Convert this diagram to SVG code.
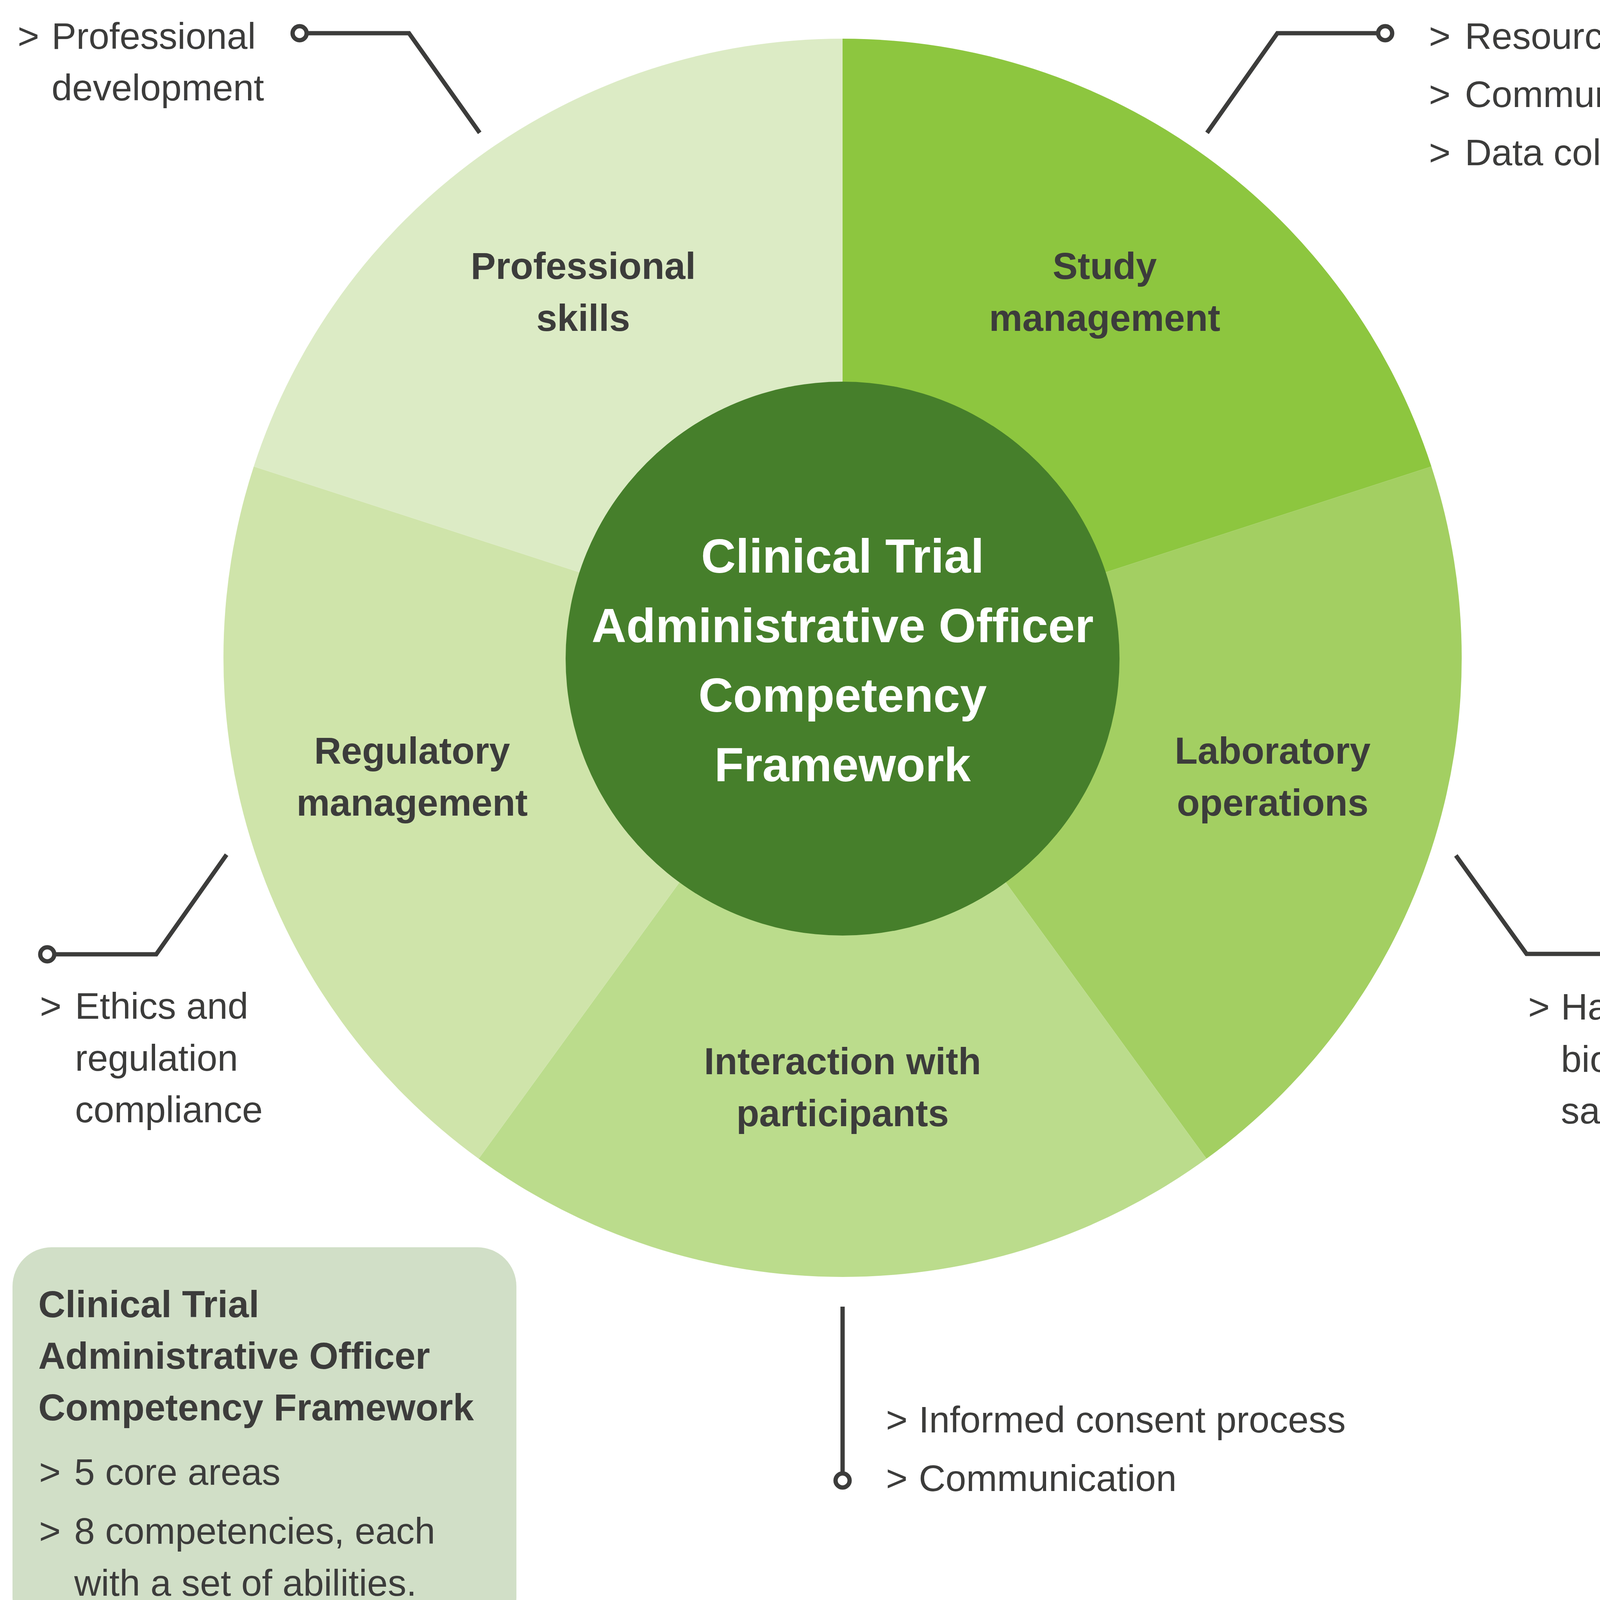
<svg xmlns="http://www.w3.org/2000/svg" width="6333" height="5568" viewBox="0 0 6333 5568">
<style>
text{font-family:"Liberation Sans",Arial,sans-serif;fill:#3c3c3b}
.t{font-size:95px}
.b{font-size:96px;font-weight:bold}
.lbl{font-size:96px;font-weight:bold;text-anchor:middle}
.ctr{font-size:123px;font-weight:bold;fill:#ffffff;text-anchor:middle}
.ln{fill:none;stroke:#3c3c3b;stroke-width:11;stroke-linejoin:miter}
.dot{fill:#ffffff;stroke:#3c3c3b;stroke-width:11}
.ps{fill:#dcebc5}.sm{fill:#8dc63f}.lo{fill:#a3cf62}.ip{fill:#bbdc8c}.rm{fill:#cfe4aa}.cc{fill:#467f2b}
.box{fill:#d1dfc7}
</style>
<rect width="6333" height="5568" fill="#ffffff"/>
<polygon points="0,5140 2497,5568 0,5568" fill="#a8d16b"/>

<g id="framework1">
  <g id="f1-study-management"><path class="sm" d="M2157,1684 L2157,99 A1585,1585 0 0 1 3664.4,1194.2 Z"/><text class="lbl" x="2828" y="714">Study</text><text class="lbl" x="2828" y="847">management</text></g>
  <g id="f1-laboratory-operations"><path class="lo" d="M2157,1684 L3664.4,1194.2 A1585,1585 0 0 1 3088.6,2966.3 Z"/><text class="lbl" x="3258" y="1955">Laboratory</text><text class="lbl" x="3258" y="2088">operations</text></g>
  <g id="f1-interaction"><path class="ip" d="M2157,1684 L3088.6,2966.3 A1585,1585 0 0 1 1225.4,2966.3 Z"/><text class="lbl" x="2157" y="2750">Interaction with</text><text class="lbl" x="2157" y="2883">participants</text></g>
  <g id="f1-regulatory-management"><path class="rm" d="M2157,1684 L1225.4,2966.3 A1585,1585 0 0 1 649.6,1194.2 Z"/><text class="lbl" x="1055" y="1955">Regulatory</text><text class="lbl" x="1055" y="2088">management</text></g>
  <g id="f1-professional-skills"><path class="ps" d="M2157,1684 L649.6,1194.2 A1585,1585 0 0 1 2157,99 Z"/><text class="lbl" x="1493" y="714">Professional</text><text class="lbl" x="1493" y="847">skills</text></g>
  <g id="f1-center"><circle class="cc" cx="2157" cy="1686" r="709"/>
    <text class="ctr" x="2157" y="1466">Clinical Trial</text>
    <text class="ctr" x="2157" y="1644">Administrative Officer</text>
    <text class="ctr" x="2157" y="1822">Competency</text>
    <text class="ctr" x="2157" y="2000">Framework</text></g>
</g>

<g id="framework2">
  <g id="f2-study-management"><path class="sm" d="M6327,3447 L6327,1863 A1584,1584 0 0 1 7698.8,2655 Z"/></g>
  <g id="f2-segment-right"><path class="lo" d="M6327,3447 L7698.8,2655 A1584,1584 0 0 1 7698.8,4239 Z"/></g>
  <g id="f2-segment-lower-right"><path class="lo" d="M6327,3447 L7698.8,4239 A1584,1584 0 0 1 6327,5031 Z"/></g>
  <g id="f2-interaction"><path class="ip" d="M6327,3447 L6327,5031 A1584,1584 0 0 1 4955.2,4239 Z"/><text class="lbl" x="5773" y="4437">Interaction with</text><text class="lbl" x="5773" y="4569">participants</text></g>
  <g id="f2-regulatory-management"><path class="rm" d="M6327,3447 L4955.2,4239 A1584,1584 0 0 1 4955.2,2655 Z"/><text class="lbl" x="5173" y="3446">Regulatory</text><text class="lbl" x="5173" y="3578">management</text></g>
  <g id="f2-professional-skills"><path class="ps" d="M6327,3447 L4955.2,2655 A1584,1584 0 0 1 6327,1863 Z"/><text class="lbl" x="5789" y="2401">Professional</text><text class="lbl" x="5789" y="2533">skills</text></g>
  <g id="f2-center"><circle class="cc" cx="6327" cy="3476" r="717"/>
    <text class="ctr" x="6327" y="3354">Study Coordinator</text>
    <text class="ctr" x="6327" y="3531">Competency</text>
    <text class="ctr" x="6327" y="3708">Framework</text></g>
</g>

<g id="connectors">
  <polyline class="ln" points="785,85 1047,85 1228,340"/><circle class="dot" cx="767" cy="85" r="18"/>
  <polyline class="ln" points="3528,85 3270,85 3090,340"/><circle class="dot" cx="3546" cy="85" r="18"/>
  <polyline class="ln" points="139,2443 400,2443 580,2188"/><circle class="dot" cx="121" cy="2443" r="18"/>
  <polyline class="ln" points="4166,2442 3908,2442 3727,2190"/><circle class="dot" cx="4184" cy="2442" r="18"/>
  <polyline class="ln" points="2157,3345 2157,3772"/><circle class="dot" cx="2157" cy="3790" r="18"/>
  <polyline class="ln" points="4961,1842 5221,1842 5402,2097"/><circle class="dot" cx="4943" cy="1842" r="18"/>
  <polyline class="ln" points="4189,3436 4660,3436"/><circle class="dot" cx="4171" cy="3436" r="18"/>
  <polyline class="ln" points="4960,5064 5222,5064 5401,4811"/><circle class="dot" cx="4942" cy="5064" r="18"/>
</g>

<g id="callout-f1-professional">
  <text class="t" x="45" y="125">&gt;</text>
  <text class="t" x="132" y="125">Professional</text>
  <text class="t" x="132" y="257">development</text>
</g>
<g id="callout-f1-study">
  <text class="t" x="3658" y="125">&gt;</text><text class="t" x="3750" y="125">Resources/financial management</text>
  <text class="t" x="3658" y="274">&gt;</text><text class="t" x="3750" y="274">Communication/ co-ordination</text>
  <text class="t" x="3658" y="423">&gt;</text><text class="t" x="3750" y="423">Data collection and documentation</text>
</g>
<g id="callout-f1-regulatory">
  <text class="t" x="102" y="2608">&gt;</text>
  <text class="t" x="192" y="2608">Ethics and</text>
  <text class="t" x="192" y="2741">regulation</text>
  <text class="t" x="192" y="2873">compliance</text>
</g>
<g id="callout-f1-laboratory">
  <text class="t" x="3912" y="2610">&gt;</text>
  <text class="t" x="3996" y="2610">Handling</text>
  <text class="t" x="3996" y="2744">biological</text>
  <text class="t" x="3996" y="2876">samples</text>
</g>
<g id="callout-f1-interaction">
  <text class="t" x="2268" y="3667">&gt;</text><text class="t" x="2352" y="3667">Informed consent process</text>
  <text class="t" x="2268" y="3817">&gt;</text><text class="t" x="2352" y="3817">Communication</text>
</g>
<g id="callout-f2-professional">
  <text class="t" x="4206" y="1884">&gt;</text>
  <text class="t" x="4287" y="1884">Professional</text>
  <text class="t" x="4287" y="2016">development</text>
</g>
<g id="callout-f2-regulatory">
  <text class="t" x="4143" y="3645">&gt;</text>
  <text class="t" x="4222" y="3645">Ethics and</text>
  <text class="t" x="4222" y="3778">regulation</text>
  <text class="t" x="4222" y="3911">compliance</text>
</g>
<g id="callout-f2-interaction">
  <text class="t" x="4920" y="5264">&gt;</text><text class="t" x="5004" y="5264">Informed consent process</text>
  <text class="t" x="4920" y="5413">&gt;</text><text class="t" x="5004" y="5413">Management of clinical trial participants</text>
  <text class="t" x="4920" y="5557">&gt;</text><text class="t" x="5004" y="5557">Patient recruitment</text>
</g>

<g id="summary-f1">
  <rect class="box" x="32" y="3193" width="1290" height="997" rx="100"/>
  <text class="b" x="98" y="3372">Clinical Trial</text>
  <text class="b" x="98" y="3504">Administrative Officer</text>
  <text class="b" x="98" y="3636">Competency Framework</text>
  <text class="t" x="100" y="3801">&gt;</text><text class="t" x="190" y="3801">5 core areas</text>
  <text class="t" x="100" y="3952">&gt;</text><text class="t" x="190" y="3952">8 competencies, each</text>
  <text class="t" x="190" y="4085">with a set of abilities.</text>
</g>
<g id="summary-f2">
  <rect class="box" x="2714" y="4250" width="2013" height="786" rx="100"/>
  <text class="b" x="2789" y="4387">Study Coordinator</text>
  <text class="b" x="2789" y="4521">Competency Framework</text>
  <text class="t" x="2789" y="4684">&gt;</text><text class="t" x="2876" y="4684">6 core areas</text>
  <text class="t" x="2789" y="4834">&gt;</text><text class="t" x="2876" y="4834">11 competencies, each with a set of</text>
  <text class="t" x="2876" y="4966">abilities and examples of skills and tasks.</text>
</g>
</svg>
